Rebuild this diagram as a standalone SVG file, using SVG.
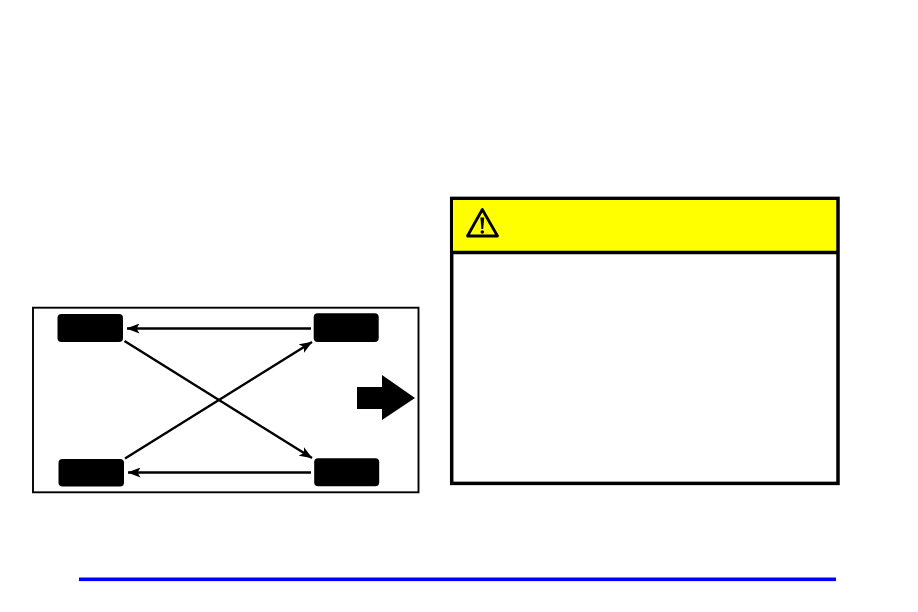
<svg xmlns="http://www.w3.org/2000/svg" width="918" height="612" viewBox="0 0 918 612">
<style>
.tire{fill:#000}
.conn{stroke:#000;fill:none;stroke-width:2.4}
.head{fill:#000}
</style>
<defs>
<marker id="ah" viewBox="0 0 13 10" refX="12.5" refY="5" markerWidth="13" markerHeight="10" markerUnits="userSpaceOnUse" orient="auto"><path d="M0 0L13 5L0 10L3 5Z" class="head"/></marker>
</defs>
<rect width="918" height="612" fill="#fff"/>
<rect id="frame" x="33" y="307.7" width="385.5" height="184.6" fill="#fff" stroke="#000" stroke-width="1.9"/>
<g id="tire-front-left"><rect class="tire" x="57.5" y="314" width="65.5" height="28" rx="4"/></g>
<g id="tire-rear-left"><rect class="tire" x="58.5" y="459" width="65.5" height="27.5" rx="4"/></g>
<g id="tire-front-right"><rect class="tire" x="313.7" y="313.3" width="65" height="28.7" rx="4"/></g>
<g id="tire-rear-right"><rect class="tire" x="314.2" y="458.3" width="65" height="28" rx="4"/></g>
<g id="connectors">
<path class="conn" marker-end="url(#ah)" d="M311 328.5H127"/>
<path class="conn" marker-end="url(#ah)" d="M311 472.5H128"/>
<path class="conn" marker-end="url(#ah)" d="M124.5 341L312 458"/>
<path class="conn" marker-end="url(#ah)" d="M125 458.5L312 342"/>
</g>
<g id="direction-arrow"><path d="M357 387H382V375L415 398L382 420V409H357Z" fill="#000"/></g>
<g id="caution">
<rect x="451.7" y="198.4" width="386.3" height="285" fill="#fff" stroke="#000" stroke-width="3.5"/>
<rect x="453" y="200" width="383" height="51" fill="#ff0"/>
<path d="M451.7 252.4H838" stroke="#000" stroke-width="3.5"/>
<path d="M482.3 209.5L467.5 236H497.5Z" fill="none" stroke="#000" stroke-width="2.8" stroke-linejoin="round"/>
<path d="M480.4 217.5H484.2L483.2 229H481.4Z" fill="#000"/>
<circle cx="482.3" cy="232" r="1.8" fill="#000"/>
</g>
<rect id="rule" x="79" y="577.5" width="757" height="3.6" fill="#00f"/>
</svg>
